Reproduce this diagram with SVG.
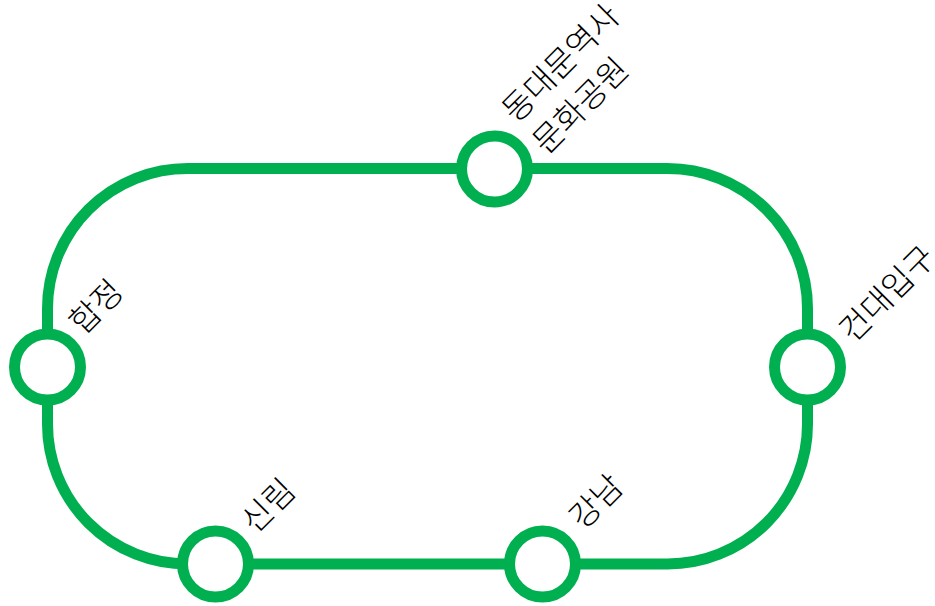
<svg xmlns="http://www.w3.org/2000/svg" width="935" height="606" viewBox="0 0 935 606">
<style>
.track{fill:none;stroke:#00B050;stroke-width:11}
.stn{fill:#fff;stroke:#00B050;stroke-width:11}
.lbl{font-family:"Noto Sans CJK KR","Noto Sans",sans-serif;font-size:32.5px;font-weight:300;fill:#000}
</style>
<rect width="935" height="606" fill="#fff"/>
<g id="connectors">
<path class="track" d="M 187.5 168.5 H 667.5 A 140 140 0 0 1 807.5 308.5 V 424 A 140 140 0 0 1 667.5 564 H 187.5 A 140 140 0 0 1 47.5 424 V 308.5 A 140 140 0 0 1 187.5 168.5 Z"/>
</g>
<g id="node-dongdaemun">
<circle class="stn" cx="494.5" cy="169" r="33"/>
<text class="lbl" transform="translate(516 124) rotate(-45)"><tspan x="0" y="0">동대문역사</tspan><tspan x="-1" dy="44">문화공원</tspan></text>
</g>
<g id="node-hapjeong">
<circle class="stn" cx="47.5" cy="367" r="33"/>
<text class="lbl" transform="translate(83 336) rotate(-45)">합정</text>
</g>
<g id="node-konkuk">
<circle class="stn" cx="807.5" cy="367" r="33"/>
<text class="lbl" transform="translate(853 344) rotate(-45)">건대입구</text>
</g>
<g id="node-sillim">
<circle class="stn" cx="215.5" cy="564" r="33"/>
<text class="lbl" transform="translate(255 535) rotate(-45)">신림</text>
</g>
<g id="node-gangnam">
<circle class="stn" cx="542.5" cy="564" r="33"/>
<text class="lbl" transform="translate(583 531) rotate(-45)">강남</text>
</g>
</svg>
